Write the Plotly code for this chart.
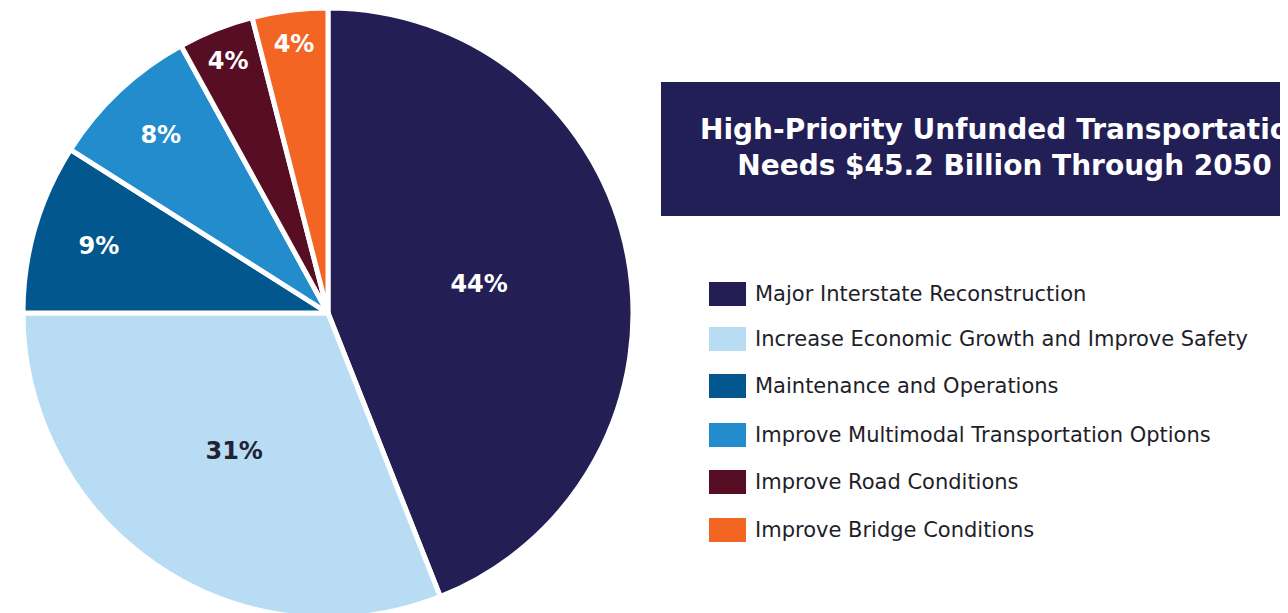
import plotly.graph_objects as go

labels = [
    "Major Interstate Reconstruction",
    "Increase Economic Growth and Improve Safety",
    "Maintenance and Operations",
    "Improve Multimodal Transportation Options",
    "Improve Road Conditions",
    "Improve Bridge Conditions",
]
shares = [44, 31, 9, 8, 4, 4]
colors = ["#231f55", "#b8dcf4", "#02588e", "#228ccc", "#570d23", "#f26522"]
text_colors = ["white", "#222233", "white", "white", "white", "white"]

# page body has an 8px margin, so the figure itself starts at (8, 8)
W, H = 1280, 613
OFF = 8


def px(x):
    return (x - OFF) / W


def py(y):
    return 1 - (y - OFF) / H


fig = go.Figure(go.Pie(
    labels=labels,
    values=shares,
    sort=False,
    direction="clockwise",
    rotation=0,
    marker=dict(colors=colors, line=dict(color="white", width=5)),
    texttemplate="%{value}%",
    textposition="inside",
    insidetextorientation="horizontal",
    insidetextfont=dict(family="DejaVu Sans", size=24, color=text_colors, weight="bold"),
    hoverinfo="label+percent",
    domain=dict(x=[px(23), px(633)], y=[py(618), 1]),
    showlegend=False,
))

# title box
fig.add_shape(type="rect", xref="paper", yref="paper",
              x0=px(661), x1=1.02, y0=py(216), y1=py(82),
              fillcolor="#221f56", line=dict(width=0), layer="below")
fig.add_annotation(xref="paper", yref="paper", x=px(1004), y=py(147),
                   text="High-Priority Unfunded Transportation<br>Needs $45.2 Billion Through 2050",
                   showarrow=False, align="center", xanchor="center", yanchor="middle",
                   font=dict(family="DejaVu Sans", size=28, color="white", weight="bold"))

# legend drawn by hand
leg_y = [294, 339, 386, 435, 482, 530]
for lab, col, yy in zip(labels, colors, leg_y):
    fig.add_shape(type="rect", xref="paper", yref="paper",
                  x0=px(709), x1=px(746), y0=py(yy + 12), y1=py(yy - 12),
                  fillcolor=col, line=dict(width=0))
    fig.add_annotation(xref="paper", yref="paper", x=px(753), y=py(yy),
                       text=lab, showarrow=False, xanchor="left", yanchor="middle",
                       font=dict(family="DejaVu Sans", size=21, color="#1e1e2a"))

fig.update_layout(
    width=W, height=H,
    margin=dict(l=0, r=0, t=0, b=0),
    paper_bgcolor="white",
    plot_bgcolor="white",
)

fig.write_html("out.html")
